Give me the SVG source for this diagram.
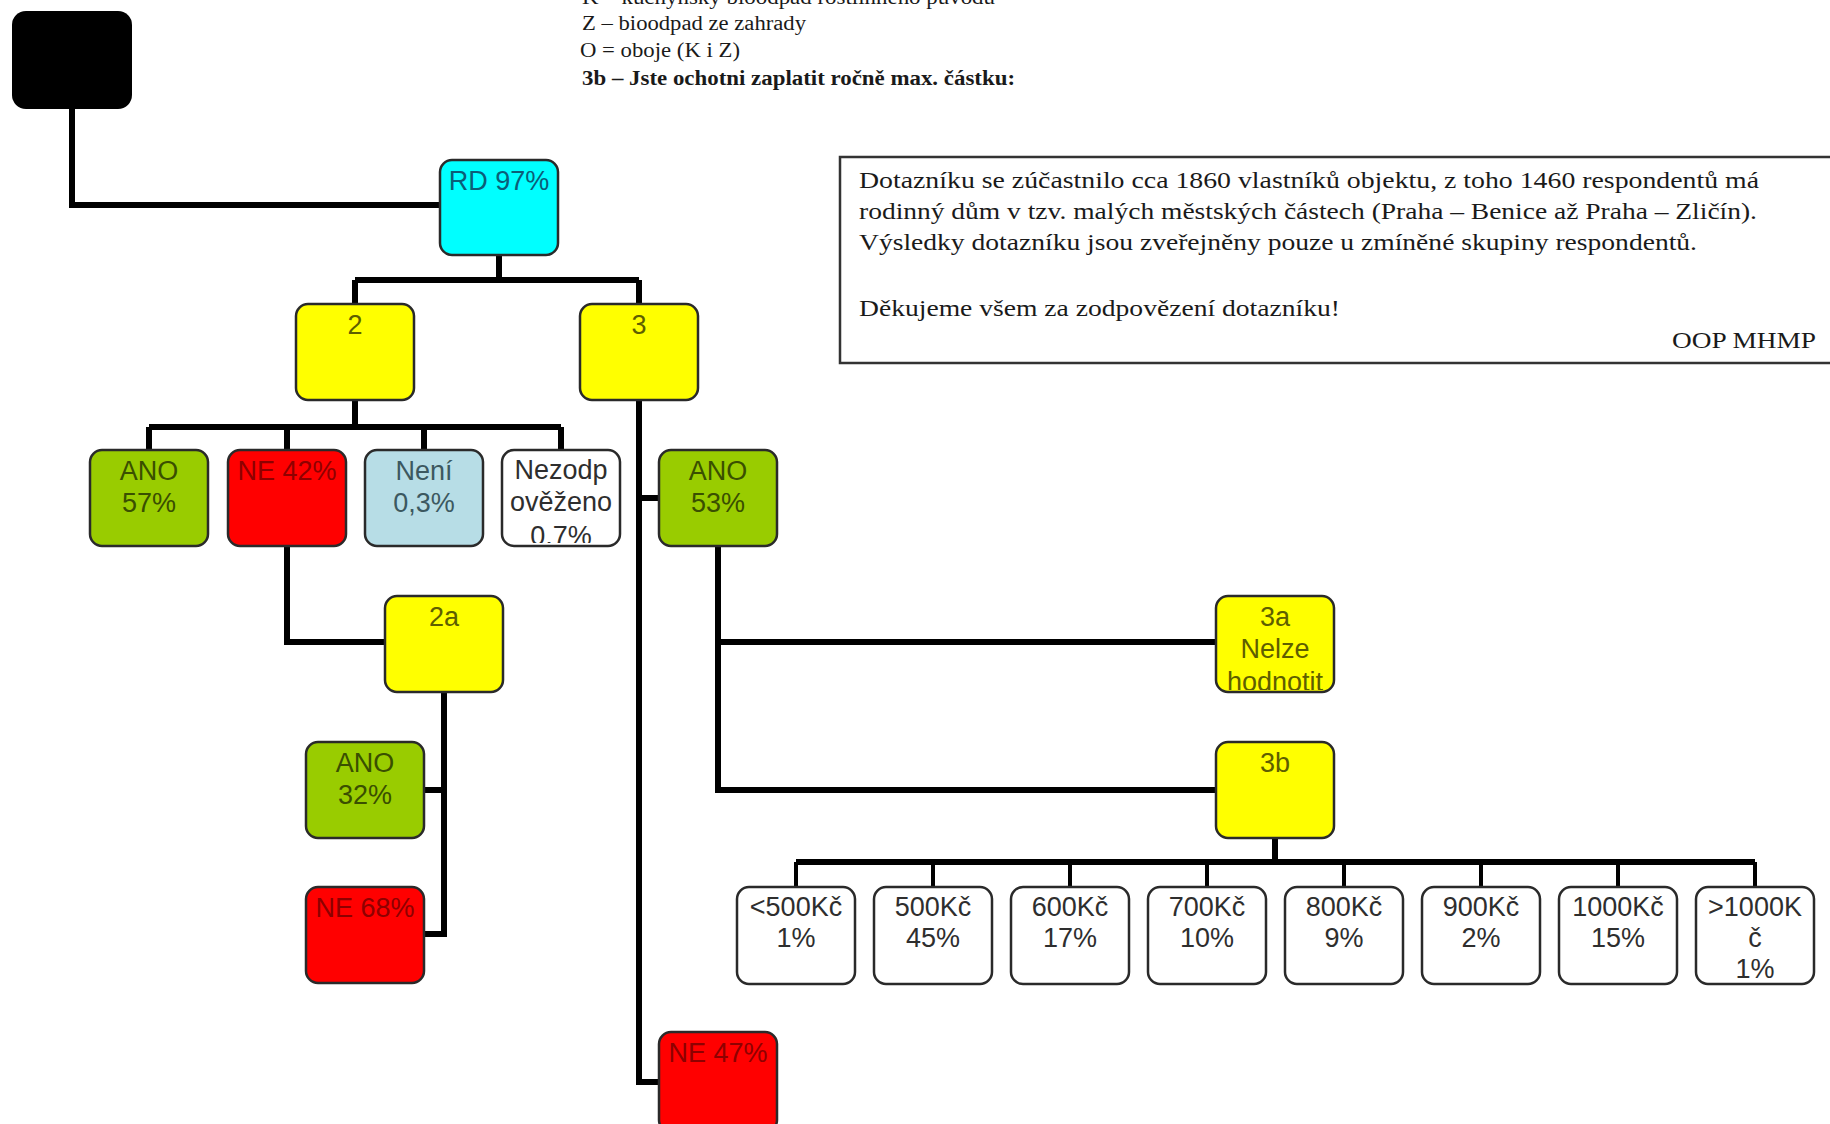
<svg xmlns="http://www.w3.org/2000/svg" width="1830" height="1124" viewBox="0 0 1830 1124">
<style>
.box{stroke:#2a2a2a;stroke-width:2.5}
.cyan{fill:#00FFFF}.yellow{fill:#FFFF00}.green{fill:#99CC00}.red{fill:#FF0000}.lblue{fill:#B7DDE6}.white{fill:#FFFFFF}
.lbl{font-family:"Liberation Sans",Arial,sans-serif;font-size:27px;text-anchor:middle}
.t-cyan{fill:#0B5E78}.t-yellow{fill:#5E5E00}.t-green{fill:#3A4F00}.t-red{fill:#8E0000}.t-lblue{fill:#3C5860}.t-white{fill:#2E2E2E}
.con{fill:none;stroke:#000;stroke-width:6}
.thin{fill:none;stroke:#000;stroke-width:4}
.serif{font-family:"Liberation Serif","Times New Roman",serif;fill:#1a1a1a}
</style>
<defs>
<clipPath id="clipNez"><rect x="503" y="451" width="116" height="92"/></clipPath>
<clipPath id="clip3a"><rect x="1217" y="597" width="116" height="93"/></clipPath>
</defs>
<rect width="1830" height="1124" fill="#FFFFFF"/>

<g id="header" class="serif" font-size="20">
<text x="582" y="4" textLength="413" lengthAdjust="spacingAndGlyphs">K – kuchyňský bioodpad rostlinného původu</text>
<text x="582" y="30" textLength="224" lengthAdjust="spacingAndGlyphs">Z – bioodpad ze zahrady</text>
<text x="580" y="57" textLength="160" lengthAdjust="spacingAndGlyphs">O = oboje (K i Z)</text>
<text x="582" y="85" font-weight="bold" textLength="433" lengthAdjust="spacingAndGlyphs">3b – Jste ochotni zaplatit ročně max. částku:</text>
</g>

<g id="infobox">
<rect x="840" y="157" width="1010" height="206" fill="#FFFFFF" stroke="#333" stroke-width="2.5"/>
<g class="serif" font-size="24">
<text x="859" y="188" textLength="900" lengthAdjust="spacingAndGlyphs">Dotazníku se zúčastnilo cca 1860 vlastníků objektu, z toho 1460 respondentů má</text>
<text x="859" y="219" textLength="898" lengthAdjust="spacingAndGlyphs">rodinný dům v tzv. malých městských částech (Praha – Benice až Praha – Zličín).</text>
<text x="859" y="250" textLength="838" lengthAdjust="spacingAndGlyphs">Výsledky dotazníku jsou zveřejněny pouze u zmíněné skupiny respondentů.</text>
<text x="859" y="316" textLength="481" lengthAdjust="spacingAndGlyphs">Děkujeme všem za zodpovězení dotazníku!</text>
<text x="1816" y="348" text-anchor="end" textLength="144" lengthAdjust="spacingAndGlyphs">OOP MHMP</text>
</g>
</g>

<g id="connectors">
<path class="con" stroke-width="7" d="M72,108 V205 H442"/>
<path class="con" d="M499,254 V280 M355,280 H639 M355,280 V305 M639,280 V305"/>
<path class="con" d="M355,399 V427 M149,427 H561 M149,427 V451 M287,427 V451 M424,427 V451 M561,427 V451"/>
<path class="con" d="M639,399 V1082 H661 M639,498 H661"/>
<path class="con" d="M718,545 V790 H1218 M718,642 H1218"/>
<path class="con" d="M287,545 V642 H387"/>
<path class="con" d="M444,691 V934 H422 M444,790 H422"/>
<path class="con" d="M1275,837 V862"/>
<path class="con" stroke-width="7" d="M796,862 H1755"/>
<path class="thin" d="M796,862 V888 M933,862 V888 M1070,862 V888 M1207,862 V888 M1344,862 V888 M1481,862 V888 M1618,862 V888 M1755,862 V888"/>
</g>

<g id="n-root"><rect x="12" y="11" width="120" height="98" rx="14" fill="#000000"/></g>

<g id="n-rd"><rect class="box cyan" x="440" y="160" width="118" height="95" rx="12"/><text class="lbl t-cyan" x="499" y="190">RD 97%</text></g>
<g id="n-2"><rect class="box yellow" x="296" y="304" width="118" height="96" rx="12"/><text class="lbl t-yellow" x="355" y="334">2</text></g>
<g id="n-3"><rect class="box yellow" x="580" y="304" width="118" height="96" rx="12"/><text class="lbl t-yellow" x="639" y="334">3</text></g>

<g id="n-2-ano"><rect class="box green" x="90" y="450" width="118" height="96" rx="12"/><text class="lbl t-green" x="149" y="480">ANO</text><text class="lbl t-green" x="149" y="512">57%</text></g>
<g id="n-2-ne"><rect class="box red" x="228" y="450" width="118" height="96" rx="12"/><text class="lbl t-red" x="287" y="480">NE 42%</text></g>
<g id="n-2-neni"><rect class="box lblue" x="365" y="450" width="118" height="96" rx="12"/><text class="lbl t-lblue" x="424" y="480">Není</text><text class="lbl t-lblue" x="424" y="512">0,3%</text></g>
<g id="n-2-nezodp"><rect class="box white" x="502" y="450" width="118" height="96" rx="12"/><g clip-path="url(#clipNez)"><text class="lbl t-white" x="561" y="479">Nezodp</text><text class="lbl t-white" x="561" y="511">ověženo</text><text class="lbl t-white" x="561" y="545">0,7%</text></g></g>
<g id="n-3-ano"><rect class="box green" x="659" y="450" width="118" height="96" rx="12"/><text class="lbl t-green" x="718" y="480">ANO</text><text class="lbl t-green" x="718" y="512">53%</text></g>

<g id="n-2a"><rect class="box yellow" x="385" y="596" width="118" height="96" rx="12"/><text class="lbl t-yellow" x="444" y="626">2a</text></g>
<g id="n-2a-ano"><rect class="box green" x="306" y="742" width="118" height="96" rx="12"/><text class="lbl t-green" x="365" y="772">ANO</text><text class="lbl t-green" x="365" y="804">32%</text></g>
<g id="n-2a-ne"><rect class="box red" x="306" y="887" width="118" height="96" rx="12"/><text class="lbl t-red" x="365" y="917">NE 68%</text></g>

<g id="n-3a"><rect class="box yellow" x="1216" y="596" width="118" height="96" rx="12"/><g clip-path="url(#clip3a)"><text class="lbl t-yellow" x="1275" y="626">3a</text><text class="lbl t-yellow" x="1275" y="658">Nelze</text><text class="lbl t-yellow" x="1275" y="691">hodnotit</text></g></g>
<g id="n-3b"><rect class="box yellow" x="1216" y="742" width="118" height="96" rx="12"/><text class="lbl t-yellow" x="1275" y="772">3b</text></g>

<g id="n-3-ne"><rect class="box red" x="659" y="1032" width="118" height="100" rx="12"/><text class="lbl t-red" x="718" y="1062">NE 47%</text></g>

<g id="n-b1"><rect class="box white" x="737" y="887" width="118" height="97" rx="12"/><text class="lbl t-white" x="796" y="916">&lt;500Kč</text><text class="lbl t-white" x="796" y="947">1%</text></g>
<g id="n-b2"><rect class="box white" x="874" y="887" width="118" height="97" rx="12"/><text class="lbl t-white" x="933" y="916">500Kč</text><text class="lbl t-white" x="933" y="947">45%</text></g>
<g id="n-b3"><rect class="box white" x="1011" y="887" width="118" height="97" rx="12"/><text class="lbl t-white" x="1070" y="916">600Kč</text><text class="lbl t-white" x="1070" y="947">17%</text></g>
<g id="n-b4"><rect class="box white" x="1148" y="887" width="118" height="97" rx="12"/><text class="lbl t-white" x="1207" y="916">700Kč</text><text class="lbl t-white" x="1207" y="947">10%</text></g>
<g id="n-b5"><rect class="box white" x="1285" y="887" width="118" height="97" rx="12"/><text class="lbl t-white" x="1344" y="916">800Kč</text><text class="lbl t-white" x="1344" y="947">9%</text></g>
<g id="n-b6"><rect class="box white" x="1422" y="887" width="118" height="97" rx="12"/><text class="lbl t-white" x="1481" y="916">900Kč</text><text class="lbl t-white" x="1481" y="947">2%</text></g>
<g id="n-b7"><rect class="box white" x="1559" y="887" width="118" height="97" rx="12"/><text class="lbl t-white" x="1618" y="916">1000Kč</text><text class="lbl t-white" x="1618" y="947">15%</text></g>
<g id="n-b8"><rect class="box white" x="1696" y="887" width="118" height="97" rx="12"/><text class="lbl t-white" x="1755" y="916">&gt;1000K</text><text class="lbl t-white" x="1755" y="947">č</text><text class="lbl t-white" x="1755" y="978">1%</text></g>
</svg>
